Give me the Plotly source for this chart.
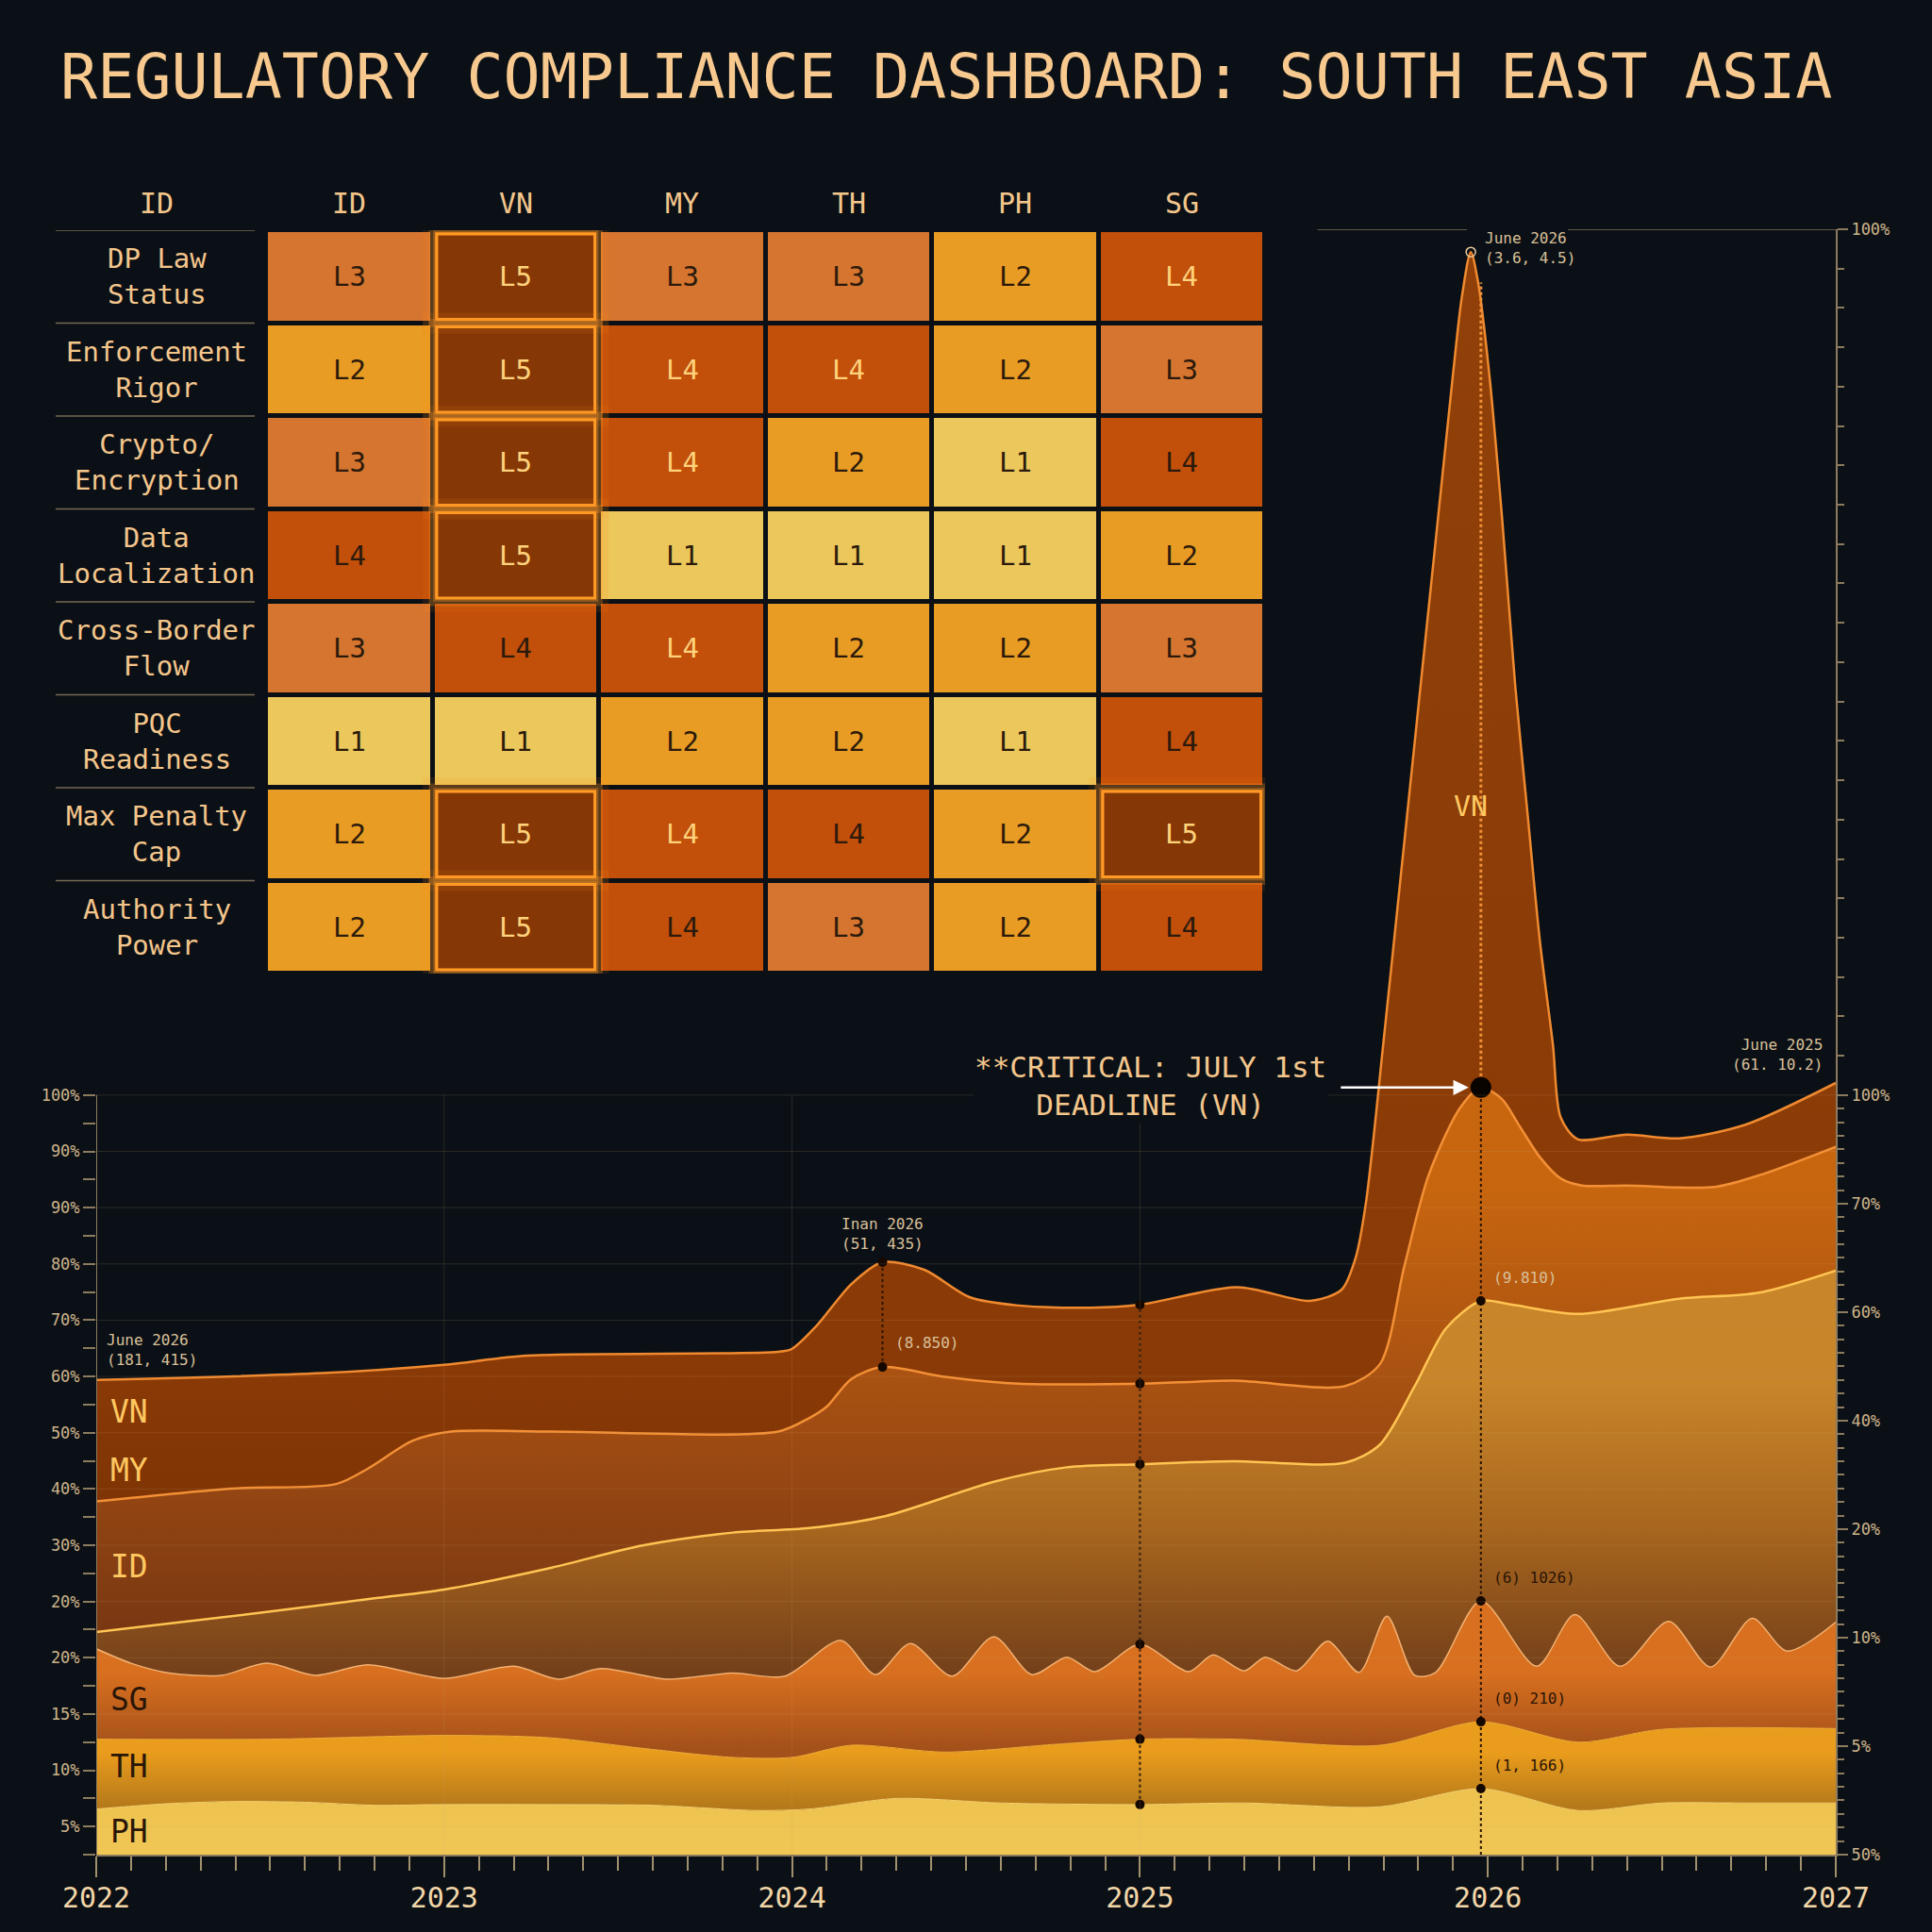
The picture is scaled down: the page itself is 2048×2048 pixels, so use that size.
import numpy as np
import plotly.graph_objects as go

W = H = 2048
FONT = "DejaVu Sans Mono, Liberation Mono, monospace"
BG = "#0B1016"
BEIGE = "#CDB48C"
PEACH = "#F4C68C"

# ---------------- heatmap data ----------------
countries = ["ID", "VN", "MY", "TH", "PH", "SG"]
criteria = ["DP Law<br>Status", "Enforcement<br>Rigor", "Crypto/<br>Encryption",
            "Data<br>Localization", "Cross-Border<br>Flow", "PQC<br>Readiness",
            "Max Penalty<br>Cap", "Authority<br>Power"]
levels = [
    [3, 5, 3, 3, 2, 4],
    [2, 5, 4, 4, 2, 3],
    [3, 5, 4, 2, 1, 4],
    [4, 5, 1, 1, 1, 2],
    [3, 4, 4, 2, 2, 3],
    [1, 1, 2, 2, 1, 4],
    [2, 5, 4, 4, 2, 5],
    [2, 5, 4, 3, 2, 4],
]
light_text_cells = [(0, 5), (1, 2), (1, 3), (2, 2), (4, 2), (6, 2)]

# ---------------- stream (stacked level of each band's upper edge) ----------------
PH_x = [2022.0, 2022.2, 2022.4, 2022.6, 2022.8, 2023.0, 2023.3, 2023.6, 2023.9, 2024.05,
        2024.3, 2024.6, 2025.0, 2025.3, 2025.69, 2025.98, 2026.26, 2026.5, 2026.75, 2027.0]
PH_y = [6.0, 6.7, 7.0, 6.9, 6.5, 6.6, 6.6, 6.5, 5.8, 6.0,
        7.4, 6.8, 6.6, 6.8, 6.3, 8.7, 5.8, 6.8, 6.8, 6.8]

TH_x = [2022.0, 2022.5, 2023.0, 2023.3, 2023.57, 2023.83, 2024.0, 2024.17, 2024.44, 2024.75,
        2025.0, 2025.27, 2025.69, 2025.98, 2026.26, 2026.5, 2027.0]
TH_y = [15.2, 15.2, 15.7, 15.4, 14.0, 12.8, 12.8, 14.4, 13.5, 14.5,
        15.2, 15.2, 14.4, 17.5, 14.8, 16.5, 16.6]

SG_x = [2022.0, 2022.10, 2022.21, 2022.36, 2022.49, 2022.63, 2022.78, 2023.0, 2023.20, 2023.33,
        2023.45, 2023.64, 2023.83, 2023.98, 2024.14, 2024.24, 2024.34, 2024.46, 2024.58, 2024.69,
        2024.79, 2024.87, 2025.0, 2025.14, 2025.21, 2025.30, 2025.36, 2025.45, 2025.54, 2025.63,
        2025.71, 2025.79, 2025.85, 2025.98, 2026.14, 2026.25, 2026.38, 2026.52, 2026.64, 2026.76,
        2026.86, 2027.0]
SG_y = [27.1, 25.2, 23.9, 23.6, 25.2, 23.6, 25.0, 23.2, 24.8, 23.1,
        24.5, 23.1, 23.9, 23.5, 28.2, 23.7, 27.8, 23.5, 28.7, 23.7,
        26.0, 24.1, 27.7, 24.1, 26.3, 24.2, 26.0, 24.2, 28.1, 24.0,
        31.4, 23.6, 24.0, 33.4, 24.8, 31.6, 24.8, 30.7, 24.7, 31.1,
        26.8, 30.6]

ID_x = [2022.0, 2022.5, 2022.81, 2023.0, 2023.31, 2023.57, 2023.83, 2024.05, 2024.27, 2024.58,
        2024.79, 2025.0, 2025.27, 2025.59, 2025.69, 2025.79, 2025.88, 2025.98, 2026.07, 2026.26,
        2026.55, 2026.78, 2027.0]
ID_y = [29.3, 32.0, 33.8, 34.9, 37.8, 40.7, 42.4, 43.0, 44.6, 49.1,
        51.0, 51.4, 51.8, 51.6, 54.0, 61.7, 69.3, 72.9, 72.4, 71.2,
        73.2, 74.0, 76.9]

MY_x = [2022.0, 2022.39, 2022.69, 2022.78, 2022.91, 2023.02, 2023.31, 2023.96, 2024.05, 2024.10,
        2024.17, 2024.26, 2024.44, 2024.65, 2025.0, 2025.27, 2025.59, 2025.69, 2025.76, 2025.83,
        2025.92, 2025.98, 2026.04, 2026.09, 2026.15, 2026.21, 2026.27, 2026.40, 2026.65, 2026.79,
        2027.0]
MY_y = [46.5, 48.2, 48.8, 50.8, 54.5, 55.7, 55.7, 55.7, 57.5, 59.0,
        62.6, 64.2, 62.9, 62.0, 62.0, 62.4, 61.7, 64.6, 77.5, 89.5,
        98.3, 101.0, 99.5, 96.0, 91.8, 89.0, 88.1, 88.1, 87.9, 89.6,
        93.2]

VN_x = [2022.0, 2022.65, 2023.0, 2023.24, 2023.96, 2024.0, 2024.07, 2024.17, 2024.26, 2024.38,
        2024.51, 2024.65, 2024.86, 2025.0, 2025.28, 2025.49, 2025.58, 2025.62, 2025.65, 2025.70,
        2025.75, 2025.80, 2025.85, 2025.90, 2025.925, 2025.951, 2025.972, 2026.005, 2026.041, 2026.079,
        2026.114, 2026.149, 2026.187, 2026.209, 2026.258, 2026.40, 2026.55, 2026.74, 2027.0]
VN_y = [62.5, 63.4, 64.5, 65.7, 66.2, 66.6, 69.6, 75.1, 78.0, 77.0,
        73.4, 72.3, 72.0, 72.4, 74.7, 72.9, 74.4, 78.6, 86.0, 107.0,
        129.0, 151.0, 173.0, 195.0, 205.0, 211.0, 207.0, 194.5, 175.9, 153.7,
        137.1, 120.5, 106.6, 97.1, 94.2, 94.8, 94.3, 96.1, 101.6]

band_names = ["PH", "TH", "SG", "ID", "MY", "VN"]
band_x = [PH_x, TH_x, SG_x, ID_x, MY_x, VN_x]
band_y = [PH_y, TH_y, SG_y, ID_y, MY_y, VN_y]
band_line = ["#F7D271", "#F2AE3A", "#F3B070", "#FFC452", "#F39036", "#F08A30"]
band_lw = [1, 1, 1.5, 2.5, 2.5, 2.5]
# vertical fill gradients (dark at the lower edge of each band, bright toward its top)
band_grad = [
    dict(start=0, stop=8, colorscale=[[0, "#F0C655"], [1, "#EEC24E"]]),
    dict(start=6.5, stop=13.5, colorscale=[[0, "#B67A1A"], [1, "#EA9C1C"]]),
    dict(start=14, stop=24, colorscale=[[0, "#A4501A"], [1, "#D8701F"]]),
    dict(start=24, stop=62, colorscale=[[0, "#74401A"], [0.5, "#A8661E"], [1, "#C8852A"]]),
    dict(start=30, stop=88, colorscale=[[0, "#7A3812"], [0.45, "#A04C12"], [1, "#C8660F"]]),
    dict(start=45, stop=211, colorscale=[[0, "#7E3405"], [0.12, "#8A3A06"], [1, "#904008"]]),
]

# axis tick labels
years = [2022, 2023, 2024, 2025, 2026, 2027]
left_labels = ["5%", "10%", "15%", "20%", "20%", "30%", "40%", "50%", "60%", "70%",
               "80%", "90%", "90%", "100%"]
right_labels = ["50%", "5%", "10%", "20%", "40%", "60%", "70%", "100%", "100%"]

Y_TOP = 214.0
step = 100 / 13.5
left_vals = [(k + 0.5) * step for k in range(len(left_labels))]
left_minor = [k * step for k in range(len(left_labels))]
right_vals = [k * 100 / 7 for k in range(8)] + [Y_TOP]
right_minor = [k * 100 / 56 for k in range(57) if k % 8] + [100 + k * (Y_TOP - 100) / 22 for k in range(1, 22)]

fig = go.Figure()

# ---- stacked stream ----
for i in range(6):
    g = band_grad[i]
    fig.add_trace(go.Scatter(
        x=band_x[i], y=band_y[i], mode="lines", name=band_names[i],
        line=dict(shape="spline", smoothing=0.8, color=band_line[i], width=band_lw[i]),
        fill="tozeroy" if i == 0 else "tonexty",
        fillcolor=g["colorscale"][-1][1],
        fillgradient=dict(type="vertical", start=g["start"], stop=g["stop"], colorscale=g["colorscale"]),
        hoverinfo="skip", showlegend=False))


def lvl(name, x):
    k = band_names.index(name)
    return float(np.interp(x, band_x[k], band_y[k]))


X_A, X_B, X_C = 2024.26, 2025.0, 2025.98
DARK = "#2A1405"
# dotted guide lines
fig.add_trace(go.Scatter(x=[X_A, X_A], y=[lvl("MY", X_A), lvl("VN", X_A)], mode="lines",
                         line=dict(color=DARK, width=2, dash="dot"), hoverinfo="skip", showlegend=False))
fig.add_trace(go.Scatter(x=[X_B, X_B], y=[lvl("PH", X_B), lvl("VN", X_B)], mode="lines",
                         line=dict(color=DARK, width=2, dash="dot"), hoverinfo="skip", showlegend=False))
fig.add_trace(go.Scatter(x=[X_C, X_C], y=[0, lvl("MY", X_C)], mode="lines",
                         line=dict(color=DARK, width=2, dash="dot"), hoverinfo="skip", showlegend=False))
fig.add_trace(go.Scatter(x=[X_C, X_C], y=[lvl("MY", X_C), lvl("VN", X_C) + 3], mode="lines",
                         line=dict(color="#F0923A", width=3, dash="dot"), hoverinfo="skip", showlegend=False))

dots_x = [X_A, X_A] + [X_B] * 6 + [X_C] * 4
dots_y = [lvl("VN", X_A), lvl("MY", X_A)] + [lvl(n, X_B) for n in ["VN", "MY", "ID", "SG", "TH", "PH"]] + \
         [lvl(n, X_C) for n in ["ID", "SG", "TH", "PH"]]
fig.add_trace(go.Scatter(x=dots_x, y=dots_y, mode="markers",
                         marker=dict(color="#140800", size=10, line=dict(width=0)),
                         hoverinfo="skip", showlegend=False))
fig.add_trace(go.Scatter(x=[X_C], y=[lvl("MY", X_C)], mode="markers",
                         marker=dict(color="#0A0400", size=22, line=dict(width=0)),
                         hoverinfo="skip", showlegend=False))
peak_i = int(np.argmax(VN_y))
fig.add_trace(go.Scatter(x=[VN_x[peak_i]], y=[VN_y[peak_i]], mode="markers",
                         marker=dict(color="rgba(0,0,0,0)", size=10, line=dict(width=1.5, color="#E8CBA0")),
                         hoverinfo="skip", showlegend=False))

# ---- heatmap ----
hm_colors = ["#ECC75B", "#E99C23", "#D6752F", "#C24F0A", "#853806"]
cs = []
for k, c in enumerate(hm_colors):
    cs.append([k / 5, c])
    cs.append([(k + 1) / 5, c])
fig.add_trace(go.Heatmap(z=levels, x=list(range(len(countries))), y=list(range(len(criteria))),
                         xaxis="x2", yaxis="y2", colorscale=cs, zmin=0.5, zmax=5.5,
                         showscale=False, xgap=5, ygap=5, hoverinfo="skip"))

shapes = []
annotations = []

# L5 glow borders
for i, row in enumerate(levels):
    for j, v in enumerate(row):
        if v == 5:
            for pad, w, col in [(0.07, 16, "rgba(255,140,30,0.10)"), (0.04, 9, "rgba(255,150,40,0.25)"),
                                (0.012, 5, "rgba(255,150,40,0.35)"), (0.0, 3, "#FF9A24")]:
                shapes.append(dict(type="rect", xref="x2", yref="y2",
                                   x0=j - 0.475 - pad * 0.55, x1=j + 0.475 + pad * 0.55,
                                   y0=i - 0.46 - pad, y1=i + 0.46 + pad,
                                   line=dict(color=col, width=w), fillcolor="rgba(0,0,0,0)", layer="above"))
        light = v == 5 or (i, j) in light_text_cells
        annotations.append(dict(xref="x2", yref="y2", x=j, y=i, text=f"L{v}", showarrow=False,
                                xanchor="center", yanchor="middle",
                                font=dict(family=FONT, size=29, color="#FFD27C" if light else "#2B1A0C")))

# headers
for j, c in enumerate(countries):
    annotations.append(dict(xref="x2", yref="paper", x=j, y=1 - 215 / H, text=c, showarrow=False,
                            xanchor="center", yanchor="middle",
                            font=dict(family=FONT, size=30, color=PEACH)))
annotations.append(dict(xref="paper", yref="paper", x=166 / W, y=1 - 215 / H, text="ID", showarrow=False,
                        xanchor="center", yanchor="middle", font=dict(family=FONT, size=30, color=PEACH)))
for i, lab in enumerate(criteria):
    annotations.append(dict(xref="paper", yref="y2", x=166 / W, y=i, text=lab, showarrow=False,
                            xanchor="center", yanchor="middle",
                            font=dict(family=FONT, size=29, color=PEACH), align="center"))
    shapes.append(dict(type="line", xref="paper", yref="y2", x0=59 / W, x1=270 / W, y0=i - 0.5, y1=i - 0.5,
                       line=dict(color="rgba(205,180,140,0.55)", width=1.5)))

# grid lines (faint, over the fills)
GRID = "rgba(200,170,120,0.16)"
for v in left_vals:
    shapes.append(dict(type="line", xref="x", yref="y", x0=2022, x1=2027, y0=v, y1=v,
                       line=dict(color=GRID, width=1), layer="above"))
for yv in years[1:4]:
    shapes.append(dict(type="line", xref="x", yref="y", x0=yv, x1=yv, y0=0, y1=100,
                       line=dict(color=GRID, width=1), layer="above"))
# left axis spine (only the lower part)
shapes.append(dict(type="line", xref="x", yref="y", x0=2022, x1=2022, y0=0, y1=100,
                   line=dict(color="#8C7B5E", width=2), layer="above"))
# top rule at the right
for a, b in [(2025.51, 2025.94), (2026.23, 2027.0)]:
    shapes.append(dict(type="line", xref="x", yref="y", x0=a, x1=b, y0=Y_TOP, y1=Y_TOP,
                       line=dict(color="rgba(200,175,135,0.6)", width=1.5)))

# ---- text annotations on the stream ----
SMALL = dict(family=FONT, size=16, color="#D9C09A")
DSMALL = dict(family=FONT, size=16, color="#2A1405")
annotations += [
    dict(xref="x", yref="y", x=2022.024, y=lvl("VN", 2022.0) + 1.2, text="June 2026<br>(181, 415)",
         showarrow=False, xanchor="left", yanchor="bottom", align="left", font=SMALL),
    dict(xref="x", yref="y", x=X_A, y=lvl("VN", X_A) + 1.0, text="Inan 2026<br>(51, 435)",
         showarrow=False, xanchor="center", yanchor="bottom", align="left", font=SMALL),
    dict(xref="x", yref="y", x=X_A + 0.03, y=lvl("MY", X_A) + 1.8, text="(8.850)",
         showarrow=False, xanchor="left", yanchor="bottom", font=SMALL),
    dict(xref="x", yref="y", x=X_C + 0.03, y=lvl("ID", X_C) + 1.6, text="(9.810)",
         showarrow=False, xanchor="left", yanchor="bottom", font=SMALL),
    dict(xref="x", yref="y", x=X_C + 0.03, y=lvl("SG", X_C) + 1.6, text="(6) 1026)",
         showarrow=False, xanchor="left", yanchor="bottom", font=DSMALL),
    dict(xref="x", yref="y", x=X_C + 0.03, y=lvl("TH", X_C) + 1.6, text="(0) 210)",
         showarrow=False, xanchor="left", yanchor="bottom", font=DSMALL),
    dict(xref="x", yref="y", x=X_C + 0.03, y=lvl("PH", X_C) + 1.6, text="(1, 166)",
         showarrow=False, xanchor="left", yanchor="bottom", font=DSMALL),
    dict(xref="x", yref="y", x=2026.967, y=VN_y[-1] + 1.0, text="June 2025<br>(61. 10.2)",
         showarrow=False, xanchor="right", yanchor="bottom", align="right", font=SMALL),
    dict(xref="x", yref="y", x=VN_x[peak_i] + 0.035, y=VN_y[peak_i] + 0.5, text="June 2026<br>(3.6, 4.5)",
         showarrow=False, xanchor="left", yanchor="middle", align="left", font=SMALL),
    dict(xref="x", yref="y", x=VN_x[peak_i], y=138, text="VN", showarrow=False,
         font=dict(family=FONT, size=30, color="#FFC861")),
    dict(xref="x", yref="y", x=2025.03, y=101.2, text="**CRITICAL: JULY 1st<br>DEADLINE (VN)",
         showarrow=False, bgcolor=BG, font=dict(family=FONT, size=31, color=PEACH), align="center"),
    dict(xref="x", yref="y", x=X_C, y=lvl("MY", X_C), ax=-150, ay=0, text="", showarrow=True,
         arrowhead=2, arrowsize=1.3, arrowwidth=2.5, arrowcolor="#FFFFFF", standoff=13),
]
band_label_y = {"VN": 58.3, "MY": 50.6, "ID": 38.0, "SG": 20.4, "TH": 11.6, "PH": 3.0}
for n in band_names:
    light = n in ("VN", "MY", "ID")
    annotations.append(dict(xref="x", yref="y", x=2022.035, y=band_label_y[n], text=n, showarrow=False,
                            xanchor="left", yanchor="middle",
                            font=dict(family=FONT, size=33, color="#FFC861" if light else "#2A1608")))
# title
annotations.append(dict(xref="paper", yref="paper", x=62 / W, y=1 - 81 / H, xanchor="left", yanchor="middle",
                        text="REGULATORY COMPLIANCE DASHBOARD: SOUTH EAST ASIA", showarrow=False,
                        font=dict(family=FONT, size=65, color="#F8C98F")))

AX = "#8C7B5E"
fig.update_layout(
    width=W, height=H, margin=dict(l=0, r=0, t=0, b=0, pad=0),
    paper_bgcolor=BG, plot_bgcolor="rgba(0,0,0,0)", showlegend=False,
    font=dict(family=FONT, color=BEIGE),
    xaxis=dict(domain=[102 / W, 1946 / W], range=[2022, 2027], showgrid=False, zeroline=False,
               automargin=False,
               showline=True, linecolor=AX, linewidth=2, ticks="outside", tickvals=years,
               ticktext=[str(y) for y in years], ticklen=22, tickwidth=2, tickcolor="#A0906E",
               tickfont=dict(family=FONT, size=30, color="#F2D6A8"), ticklabelstandoff=-4,
               minor=dict(tick0=2022, dtick=0.1, ticklen=15, tickwidth=2, tickcolor="#A0906E", showgrid=False)),
    yaxis=dict(domain=[1 - 1966 / H, 1 - 243 / H], range=[0, Y_TOP], showgrid=False, zeroline=False,
               automargin=False,
               showline=False, ticks="outside", tickvals=left_vals, ticktext=left_labels, ticklen=13,
               tickwidth=2, tickcolor=AX, tickfont=dict(family=FONT, size=17, color=BEIGE),
               minor=dict(tickvals=left_minor, ticklen=13, tickwidth=2, tickcolor=AX, showgrid=False)),
    yaxis3=dict(overlaying="y", side="right", anchor="x", range=[0, Y_TOP], showgrid=False, zeroline=False,
                automargin=False,
                showline=True, linecolor=AX, linewidth=2, ticks="outside", tickvals=right_vals,
                ticktext=right_labels, ticklen=11, tickwidth=2, tickcolor=AX,
                tickfont=dict(family=FONT, size=17, color=BEIGE),
                minor=dict(tickvals=right_minor, ticklen=7, tickwidth=1.5, tickcolor=AX, showgrid=False)),
    xaxis2=dict(domain=[282 / W, 1341 / W], anchor="y2", range=[-0.5, 5.5], visible=False, automargin=False),
    yaxis2=dict(domain=[1 - 1032 / H, 1 - 244 / H], anchor="x2", range=[7.5, -0.5], visible=False,
                automargin=False),
    shapes=shapes, annotations=annotations,
)
# attach a trace to the right axis so it is rendered
fig.add_trace(go.Scatter(x=[2022], y=[0], yaxis="y3", mode="markers", marker=dict(opacity=0),
                         hoverinfo="skip", showlegend=False))

fig.write_html("out.html")
